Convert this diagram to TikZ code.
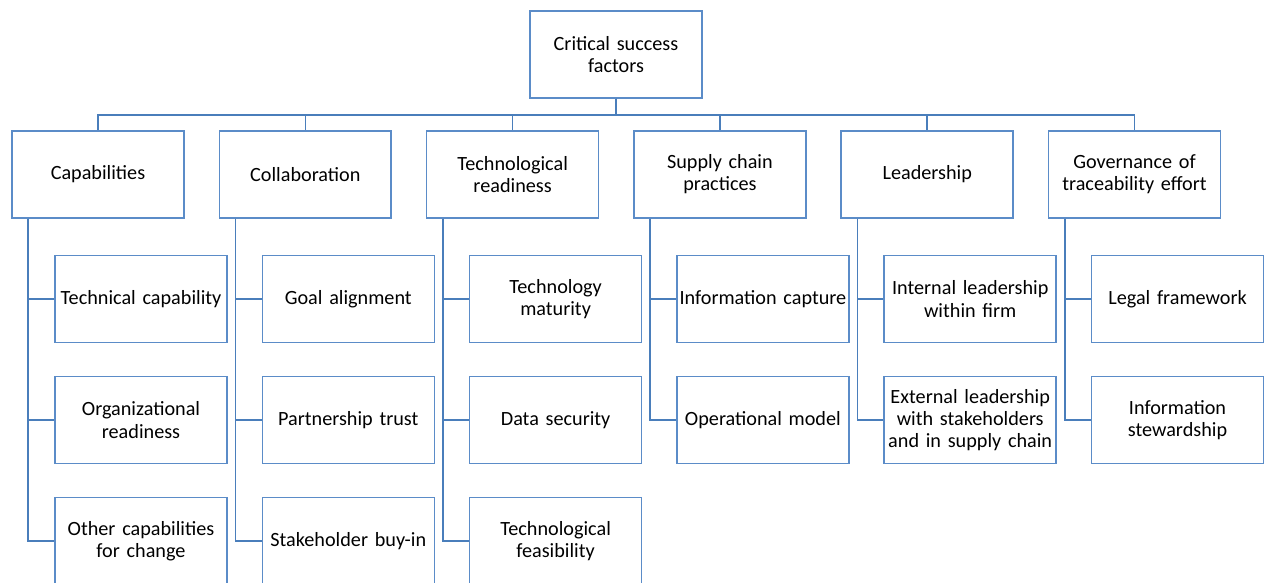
\documentclass[tikz,border=0pt]{standalone}
\usepackage{fontspec}
\setmainfont{Carlito}
\definecolor{boxblue}{RGB}{91,140,200}
\definecolor{linkblue}{RGB}{74,126,187}
\begin{document}
\begin{tikzpicture}[x=0.02cm,y=-0.02cm,
  box/.style={draw=boxblue,line width=0.9pt,minimum width=3.44cm,minimum height=1.74cm,
    inner sep=0pt,align=center,text width=3.42cm,text=black,
    font=\fontsize{11.5}{12.6}\selectfont},
  link/.style={draw=linkblue,line width=0.9pt}]
\useasboundingbox (0,0) rectangle (1266,582);
\clip (0,0) rectangle (1266,582);
\coordinate (bus) at (616,115);
\node[box] (root) at (616,54.5) {Critical success\\factors};
% factor groups
\foreach \n/\x/\t in {1/98/Capabilities,2/305.3/Collaboration,
  3/512.6/{Technological\\readiness},4/719.9/{Supply chain\\practices},
  5/927.2/Leadership,6/1134.5/{Governance of\\traceability effort}}
{
  \node[box] (c\n) at (\x,174.5) {\t};
  \draw[link] (root) -- (root |- bus) -| (c\n);
}
% individual factors
\foreach \p/\k/\t in {1/1/Technical capability,1/2/{Organizational\\readiness},
  1/3/{Other capabilities\\for change},
  2/1/Goal alignment,2/2/Partnership trust,2/3/Stakeholder buy-in,
  3/1/{Technology\\maturity},3/2/Data security,3/3/{Technological\\feasibility},
  4/1/Information capture,4/2/Operational model,
  5/1/{Internal leadership\\within firm},5/2/{External leadership\\with stakeholders\\and in supply chain},
  6/1/Legal framework,6/2/{Information\\stewardship}}
{
  \node[box] (c\p-\k) at ([shift={(43,{121*\k+3.5})}]c\p.center) {\t};
  \draw[link] ([xshift=0.34cm]c\p.south west) |- (c\p-\k);
}
\end{tikzpicture}
\end{document}
